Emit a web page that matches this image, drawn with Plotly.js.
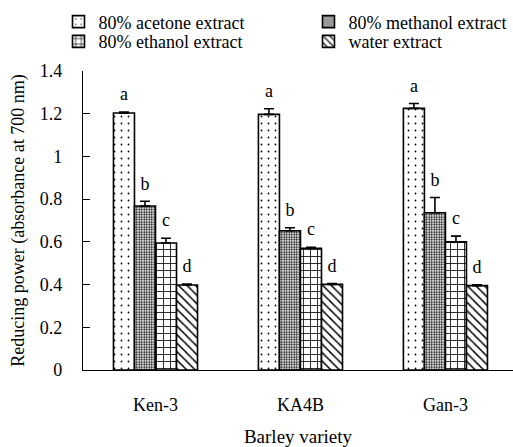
<!DOCTYPE html>
<html><head><meta charset="utf-8">
<script src="https://cdn.plot.ly/plotly-3.0.1.min.js"></script>
<style>html,body{margin:0;padding:0;background:#fff}#chart{width:513px;height:447px}</style>
</head><body><div id="chart"></div>
<script>
const varieties = ['Ken-3', 'KA4B', 'Gan-3'];
const seriesNames = ['80% acetone extract', '80% methanol extract', '80% ethanol extract', 'water extract'];
const acetone = [1.203, 1.197, 1.225];
const acetoneErr = [0.005, 0.026, 0.023];
const methanol = [0.768, 0.652, 0.736];
const methanolErr = [0.022, 0.014, 0.072];
const ethanol = [0.595, 0.570, 0.600];
const ethanolErr = [0.022, 0.005, 0.027];
const water = [0.398, 0.401, 0.395];
const waterErr = [0.005, 0.004, 0.004];
const letters = ['a', 'b', 'c', 'd'];

const values = [acetone, methanol, ethanol, water];
const errors = [acetoneErr, methanolErr, ethanolErr, waterErr];
const legendRow = ['legend', 'legend', 'legend2', 'legend2'];
const patterns = [
  {shape: '.', size: 7, solidity: 0.05, fgcolor: '#000', bgcolor: '#fff', fillmode: 'replace'},
  {shape: '.', size: 2.5, solidity: 0.45, fgcolor: '#000', bgcolor: '#fff', fillmode: 'replace'},
  {shape: '+', size: 7, solidity: 0.22, fgcolor: '#000', bgcolor: '#fff', fillmode: 'replace'},
  {shape: '\\', size: 6, solidity: 0.25, fgcolor: '#000', bgcolor: '#fff', fillmode: 'replace'}
];
const font = '"Liberation Serif", "Times New Roman", serif';

const traces = [];
values.forEach((v, i) => {
  traces.push({
    type: 'bar', name: seriesNames[i], x: varieties, y: v,
    offsetgroup: String(i), legend: legendRow[i],
    marker: {color: '#fff', pattern: patterns[i], line: {color: '#000', width: 1.6}},
    error_y: {type: 'data', array: errors[i], arrayminus: v.map(() => 0), symmetric: false,
      color: '#000', thickness: 1.6, width: 5},
    hoverinfo: 'skip'
  });
});
values.forEach((v, i) => {
  traces.push({
    type: 'scatter', mode: 'markers+text', x: varieties,
    y: v.map((val, k) => val + errors[i][k]),
    offsetgroup: String(i), showlegend: false,
    text: varieties.map(() => letters[i]), textposition: 'top center',
    textfont: {family: font, size: 18, color: '#000'},
    marker: {size: 10, opacity: 0}, hoverinfo: 'skip', cliponaxis: false
  });
});

const legendBase = {orientation: 'h', xanchor: 'left', yanchor: 'top', entrywidth: 205,
  font: {family: font, size: 18, color: '#000'}, bgcolor: 'rgba(0,0,0,0)', traceorder: 'normal'};

const layout = {
  width: 513, height: 447,
  margin: {l: 83, r: 0, t: 71, b: 77, autoexpand: false},
  paper_bgcolor: '#fff', plot_bgcolor: '#fff',
  font: {family: font, size: 17, color: '#000'},
  barmode: 'group', bargap: 0.42, bargroupgap: 0,
  scattermode: 'group',
  showlegend: true,
  legend: Object.assign({}, legendBase, {x: -0.057, y: 1.226}),
  legend2: Object.assign({}, legendBase, {x: -0.057, y: 1.16}),
  xaxis: {type: 'category', range: [-0.5, 2.466], showline: true, linecolor: '#000', linewidth: 1.2,
    ticks: '', showgrid: false, zeroline: false, ticklabelstandoff: 18,
    tickfont: {family: font, size: 18, color: '#000'},
    title: {text: 'Barley variety', font: {family: font, size: 19, color: '#000'}, standoff: 19}},
  yaxis: {range: [0, 1.4], dtick: 0.2, showline: true, linecolor: '#000', linewidth: 1.2,
    ticks: 'inside', ticklen: 7, tickcolor: '#000', showgrid: false, zeroline: false,
    ticklabelstandoff: 16, tickfont: {family: font, size: 18, color: '#000'},
    title: {text: 'Reducing power (absorbance at 700 nm)', font: {family: font, size: 18, color: '#000'}, standoff: 10}}
};
Plotly.newPlot('chart', traces, layout, {displayModeBar: false, staticPlot: true});
</script>
</body></html>
